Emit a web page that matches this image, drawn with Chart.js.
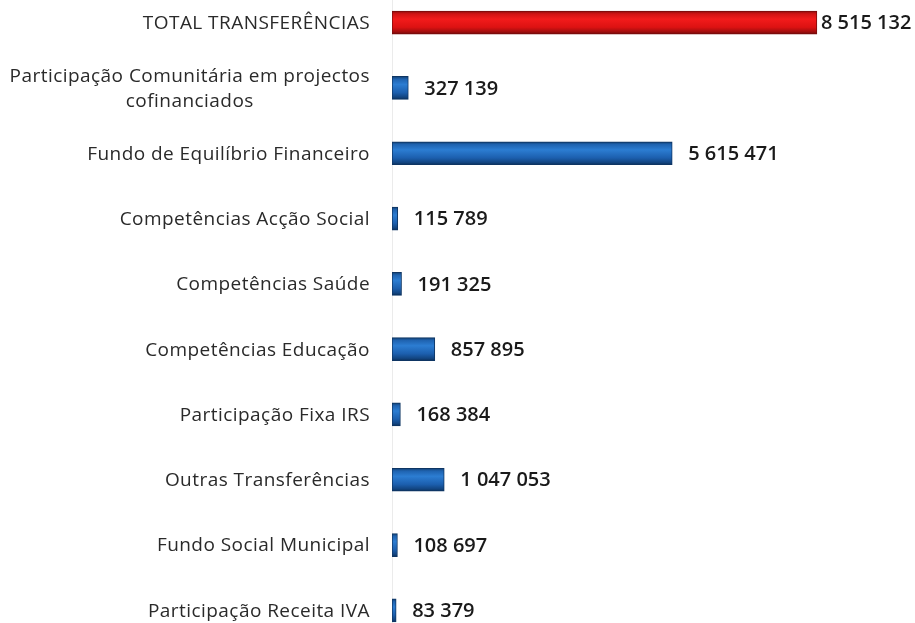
<!DOCTYPE html>
<html><head><meta charset="utf-8">
<script src="https://cdn.jsdelivr.net/npm/chart.js@4/dist/chart.umd.min.js"></script>
<style>
html,body{margin:0;padding:0;background:#fff;overflow:hidden;width:915px;height:623px;}
#wrap{position:absolute;left:0;top:-10px;width:915px;height:653px;}
</style></head><body>
<div id="wrap"><canvas id="c"></canvas></div>
<script>
const categories = [
  "TOTAL TRANSFERÊNCIAS",
  ["Participação Comunitária em projectos", "cofinanciados"],
  "Fundo de Equilíbrio Financeiro",
  "Competências Acção Social",
  "Competências Saúde",
  "Competências Educação",
  "Participação Fixa IRS",
  "Outras Transferências",
  "Fundo Social Municipal",
  "Participação Receita IVA"
];
const values = [8515132, 327139, 5615471, 115789, 191325, 857895, 168384, 1047053, 108697, 83379];

function fmt(v){ return String(v).replace(/\B(?=(\d{3})+(?!\d))/g, " "); }

const BAR_H = 23;
function barFill(context){
  const chart = context.chart;
  const isTotal = context.dataIndex === 0;
  const base = isTotal ? '#e01414' : '#1f66b8';
  const y = chart.scales && chart.scales.y;
  if (!y || context.type !== 'data' || !chart.chartArea) return base;
  const yc = y.getPixelForValue(context.dataIndex);
  const g = chart.ctx.createLinearGradient(0, yc - BAR_H/2, 0, yc + BAR_H/2);
  if (isTotal) {
    g.addColorStop(0, '#8e0d0d');
    g.addColorStop(0.12, '#d01414');
    g.addColorStop(0.35, '#f21b1b');
    g.addColorStop(0.7, '#dc1212');
    g.addColorStop(0.9, '#a00e0e');
    g.addColorStop(1, '#6e0a0a');
  } else {
    g.addColorStop(0, '#123f70');
    g.addColorStop(0.12, '#1f63b0');
    g.addColorStop(0.35, '#2c7dd2');
    g.addColorStop(0.7, '#1c5fae');
    g.addColorStop(0.9, '#124581');
    g.addColorStop(1, '#0b2f5a');
  }
  return g;
}

const yLabels = {
  id: 'yLabels',
  afterDraw(chart){
    const {ctx, scales:{y}, chartArea} = chart;
    ctx.save();
    ctx.font = '19px "Open Sans"';
    try { ctx.letterSpacing = '0.45px'; } catch(e) {}
    ctx.fillStyle = '#2a2a2a';
    ctx.textBaseline = 'middle';
    ctx.textAlign = 'center';
    const right = chartArea.left - 22;
    chart.data.labels.forEach((lab, i) => {
      const yc = y.getPixelForValue(i);
      const lines = Array.isArray(lab) ? lab : [lab];
      const w = Math.max(...lines.map(l => ctx.measureText(l).width));
      const lh = 25;
      lines.forEach((l, j) => {
        ctx.fillText(l, right - w/2, yc + 1 + (j - (lines.length-1)/2) * lh);
      });
    });
    ctx.restore();
  }
};

const valueLabels = {
  id: 'valueLabels',
  afterDatasetsDraw(chart){
    const {ctx} = chart;
    const meta = chart.getDatasetMeta(0);
    ctx.save();
    ctx.font = '600 20px "Open Sans"';
    ctx.fillStyle = '#1a1a1a';
    ctx.textBaseline = 'middle';
    ctx.textAlign = 'left';
    meta.data.forEach((bar, i) => {
      const t = fmt(chart.data.datasets[0].data[i]);
      const w = ctx.measureText(t).width;
      let x = bar.x + 16;
      if (x + w > chart.width - 5) x = Math.max(bar.x + 4, chart.width - w - 5);
      ctx.fillText(t, x, bar.y + 1);
    });
    ctx.restore();
  }
};

new Chart(document.getElementById('c'), {
  type: 'bar',
  data: {
    labels: categories,
    datasets: [{
      data: values,
      backgroundColor: barFill,
      borderColor: (c) => c.dataIndex === 0 ? '#7a0b0b' : '#0e3563',
      borderWidth: 1,
      borderSkipped: false,
      barThickness: BAR_H
    }]
  },
  options: {
    indexAxis: 'y',
    responsive: true,
    maintainAspectRatio: false,
    animation: false,
    layout: { padding: { left: 392, right: 24, top: 0, bottom: 0 } },
    plugins: { legend: { display: false }, tooltip: { enabled: false } },
    scales: {
      x: { display: false, min: 0, max: 10000000 },
      y: {
        display: true,
        ticks: { display: false },
        grid: { display: false, drawTicks: false },
        border: { display: true, color: '#ebebeb', width: 1 }
      }
    }
  },
  plugins: [yLabels, valueLabels]
});
</script>
</body></html>
